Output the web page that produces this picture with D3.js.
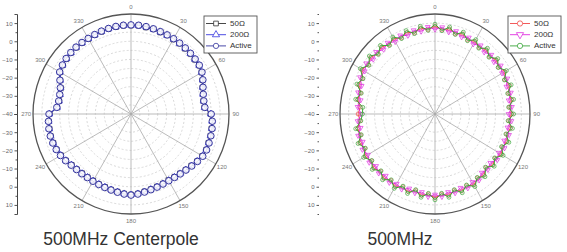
<!DOCTYPE html>
<html>
<head>
<meta charset="utf-8">
<script src="https://cdn.jsdelivr.net/npm/d3@7"></script>
<style>
  body { margin: 0; background: #fff; }
  text { font-family: "Liberation Sans", Arial, sans-serif; }
</style>
</head>
<body>
<script>
// angles of the measured points (deg) and the 30 deg spokes
var angles = d3.range(0, 360, 5);
var spokeAngles = [0, 30, 60, 90, 120, 150, 180, 210, 240, 270, 300, 330];
var axisTicks = [-40, -30, -20, -10, 0, 10];
var minorTicks = [-35, -25, -15, -5, 5, 15];
var ringValues = [-35, -30, -25, -20, -15, -10, -5, 0, 5, 10];
var legendNames = ["50\u03A9", "200\u03A9", "Active"];
var titles = ["500MHz Centerpole", "500MHz"];

// left chart: 500MHz Centerpole (dB)
var cp50 = [8.6,8.7,8.3,8.2,7.7,7.7,7.3,7.3,6.9,6.9,6.5,6.5,5.6,4.1,2.6,1.7,1.1,1.3,
  4.6,5.5,5.8,6.1,6.2,6.5,6.1,5.2,4.1,3.3,2.6,2.3,2.0,2.2,2.4,2.8,3.2,3.9,
  4.2,3.9,3.3,3.0,2.6,2.5,2.3,2.4,2.5,2.9,3.4,4.5,5.3,6.0,6.3,6.6,6.4,6.2,
  5.6,1.5,0.8,1.1,1.8,3.7,5.8,6.7,7.1,7.5,7.6,7.7,7.6,7.9,8.1,8.4,8.5,8.7];
var cp200 = [8.8,8.7,8.6,8.3,8.0,7.7,7.6,7.4,7.2,7.0,6.8,6.6,5.8,4.3,2.8,1.8,1.3,1.4,
  4.8,5.6,6.0,6.2,6.4,6.6,6.3,5.3,4.3,3.4,2.8,2.4,2.2,2.3,2.6,2.9,3.4,4.0,
  4.4,4.0,3.5,3.1,2.8,2.6,2.5,2.5,2.7,3.0,3.6,4.6,5.5,6.1,6.5,6.7,6.6,6.3,
  5.8,1.6,1.0,1.2,2.0,3.8,6.0,6.8,7.3,7.6,7.8,7.8,7.8,8.0,8.3,8.5,8.7,8.8];
var cpActive = [9.0,9.0,8.8,8.5,8.2,8.0,7.8,7.6,7.4,7.2,7.0,6.8,6.0,4.5,3.0,2.0,1.5,1.6,
  5.0,5.8,6.2,6.4,6.6,6.8,6.5,5.5,4.5,3.6,3.0,2.6,2.4,2.5,2.8,3.1,3.6,4.2,
  4.6,4.2,3.7,3.3,3.0,2.8,2.7,2.7,2.9,3.2,3.8,4.8,5.7,6.3,6.7,6.9,6.8,6.5,
  6.0,1.8,1.2,1.4,2.2,4.0,6.2,7.0,7.5,7.8,8.0,8.0,8.0,8.2,8.5,8.7,8.9,9.0];

// right chart: 500MHz (dB)
var m50 = [8.4,6.4,7.6,5.7,6.9,4.9,6.2,4.6,6.2,4.6,6.4,5.0,6.7,4.7,5.9,4.0,5.2,3.2,
  4.5,2.9,4.5,2.9,4.5,2.9,4.5,2.5,3.7,1.8,4.0,3.0,5.1,3.5,5.1,3.5,5.5,4.2,
  6.2,4.2,5.5,3.5,5.5,4.2,6.2,4.6,6.2,4.6,6.4,5.0,6.7,4.9,6.4,4.6,5.6,3.5,
  4.5,3.5,5.6,4.6,7.1,6.4,8.9,7.1,8.6,6.8,8.2,6.4,7.8,6.2,7.8,6.2,8.0,6.6];
var m200 = [6.5,7.9,5.7,7.2,5.0,6.4,4.3,6.1,4.3,6.1,4.5,6.5,4.8,6.2,4.0,5.5,3.3,4.7,
  2.6,4.4,2.6,4.4,2.6,4.4,2.6,4.0,1.8,3.3,2.1,4.5,3.2,5.0,3.2,5.0,3.6,5.7,
  4.3,5.7,3.6,5.0,3.6,5.7,4.3,6.1,4.3,6.1,4.5,6.5,4.8,6.4,4.5,6.1,3.7,5.0,
  2.6,5.0,3.7,6.1,5.2,7.9,7.0,8.6,6.7,8.3,6.3,7.9,5.9,7.7,5.9,7.7,6.1,8.1];
var mActive = [9.4,6.0,8.6,5.3,7.9,4.5,7.2,4.2,7.2,4.2,7.4,4.6,7.7,4.3,6.9,3.6,6.2,2.8,
  5.5,2.5,5.5,2.5,5.5,2.5,5.5,2.1,4.7,1.4,5.0,2.6,6.1,3.1,6.1,3.1,6.5,3.8,
  7.2,3.8,6.5,3.1,6.5,3.8,7.2,4.2,7.2,4.2,7.4,4.6,7.7,4.5,7.4,4.2,6.6,3.1,
  2.0,2.0,6.6,4.2,8.1,6.0,9.9,6.7,9.6,6.4,9.2,6.0,8.8,5.8,8.8,5.8,9.0,6.2];

var width = 567, height = 252, R = 100, cy = 114;

var svg = d3.select("body").append("svg")
    .attr("width", width)
    .attr("height", height);

function drawPolar(opt) {
  var g = svg.append("g").attr("transform", "translate(" + opt.cx + "," + cy + ")");
  var r = d3.scaleLinear().domain([-40, 15]).range([0, R]);
  var kx = opt.kx;
  function px(a, rr) { return kx * rr * Math.sin(a * Math.PI / 180); }
  function py(a, rr) { return -rr * Math.cos(a * Math.PI / 180); }

  // dashed rings
  g.selectAll(".ring").data(ringValues).enter().append("ellipse")
    .attr("rx", function(d) { return kx * r(d); })
    .attr("ry", function(d) { return r(d); })
    .attr("fill", "none").attr("stroke", "#c8c8c8")
    .attr("stroke-width", 0.7).attr("stroke-dasharray", "2,2");

  // spokes
  g.selectAll(".spoke").data(spokeAngles).enter().append("line")
    .attr("x1", 0).attr("y1", 0)
    .attr("x2", function(d) { return px(d, R); })
    .attr("y2", function(d) { return py(d, R); })
    .attr("stroke", "#aaa").attr("stroke-width", 0.8);

  // outer circle
  g.append("ellipse").attr("rx", kx * R).attr("ry", R)
    .attr("fill", "none").attr("stroke", "#555").attr("stroke-width", 1.3);

  // angle labels
  g.selectAll(".alab").data(spokeAngles).enter().append("text")
    .attr("x", function(d) { return px(d, 107); })
    .attr("y", function(d) { return py(d, 107); })
    .attr("text-anchor", "middle").attr("dominant-baseline", "middle")
    .attr("font-size", 6).attr("fill", "#777")
    .text(function(d) { return d; });

  // series
  var line = d3.line()
    .x(function(d) { return px(d.a, r(d.v)); })
    .y(function(d) { return py(d.a, r(d.v)); })
    .curve(d3.curveLinearClosed);

  opt.series.forEach(function(vals, i) {
    var pts = angles.map(function(a, j) { return {a: a, v: vals[j]}; });
    g.append("path").datum(pts)
      .attr("d", line).attr("fill", "none")
      .attr("stroke", opt.colors[i]).attr("stroke-width", opt.lineW);
    var sym = d3.symbol().type(opt.symbols[i]).size(opt.markSize[i]);
    g.selectAll(".m" + i).data(pts).enter().append("path")
      .attr("d", sym)
      .attr("transform", function(d) {
        return "translate(" + px(d.a, r(d.v)) + "," + py(d.a, r(d.v)) + ")" + (opt.flip[i] ? " rotate(180)" : "");
      })
      .attr("fill", "#fff").attr("fill-opacity", opt.fillOp)
      .attr("stroke", opt.colors[i]).attr("stroke-width", opt.markW);
  });

  // left radial axis, mirrored around -40
  var yTop = d3.scaleLinear().domain([-40, 15]).range([cy, cy - R]);
  var yBot = d3.scaleLinear().domain([-40, 15]).range([cy, cy + R]);
  [yTop, yBot].forEach(function(y, k) {
    var ax = svg.append("g").attr("transform", "translate(" + opt.axisX + ",0)");
    ax.call(d3.axisLeft(y).tickValues(k === 0 ? axisTicks : axisTicks.slice(1)).tickSize(2.5).tickPadding(2));
    ax.append("g").call(d3.axisLeft(y).tickValues(minorTicks).tickSize(1.5).tickFormat(""))
      .select(".domain").remove();
    ax.selectAll("text").attr("font-size", 6).attr("fill", "#666")
      .style("font-family", "Liberation Sans, Arial, sans-serif");
    ax.selectAll("line").attr("stroke", "#555");
    if (opt.axisLine) ax.select(".domain").attr("stroke", "#444").attr("stroke-width", 1);
    else ax.selectAll(".domain").remove();
  });

  // legend
  var lg = svg.append("g").attr("transform", "translate(" + opt.legendX + ",16)");
  lg.append("rect").attr("width", opt.legendW).attr("height", 37)
    .attr("fill", "#fff").attr("stroke", "#555").attr("stroke-width", 0.9);
  legendNames.forEach(function(name, i) {
    var yy = 7.5 + i * 11.2;
    lg.append("line").attr("x1", 2).attr("x2", 22).attr("y1", yy).attr("y2", yy)
      .attr("stroke", opt.colors[i]).attr("stroke-width", 0.9);
    lg.append("path")
      .attr("d", d3.symbol().type(opt.symbols[i]).size(22))
      .attr("transform", "translate(12," + yy + ")" + (opt.flip[i] ? " rotate(180)" : ""))
      .attr("fill", "#fff").attr("stroke", opt.colors[i]).attr("stroke-width", 0.8);
    lg.append("text").attr("x", 26).attr("y", yy).attr("dominant-baseline", "middle")
      .attr("font-size", 8).attr("fill", "#333").text(name);
  });

  // title
  svg.append("text").attr("x", opt.titleX).attr("y", 245)
    .attr("text-anchor", "middle").attr("font-size", 17.5).attr("fill", "#333")
    .text(opt.title);
}

drawPolar({
  cx: 131, kx: 0.98, axisX: 17, axisLine: true,
  series: [cp50, cp200, cpActive],
  colors: ["#333", "#3a3ae0", "#35359e"],
  symbols: [d3.symbolSquare, d3.symbolTriangle, d3.symbolCircle],
  markSize: [20, 18, 34], markW: 1.0, lineW: 1.0, fillOp: 0.85,
  flip: [false, false, false],
  legendX: 204, legendW: 53,
  title: titles[0], titleX: 121
});

drawPolar({
  cx: 435, kx: 0.95, axisX: 319, axisLine: false,
  series: [m50, m200, mActive],
  colors: ["#f04848", "#e030e0", "#3aa63a"],
  symbols: [d3.symbolCircle, d3.symbolTriangle, d3.symbolCircle],
  markSize: [12, 10, 12], markW: 0.7, lineW: 1.0, fillOp: 0.2,
  flip: [false, true, false],
  legendX: 508, legendW: 53,
  title: titles[1], titleX: 400
});
</script>
</body>
</html>
